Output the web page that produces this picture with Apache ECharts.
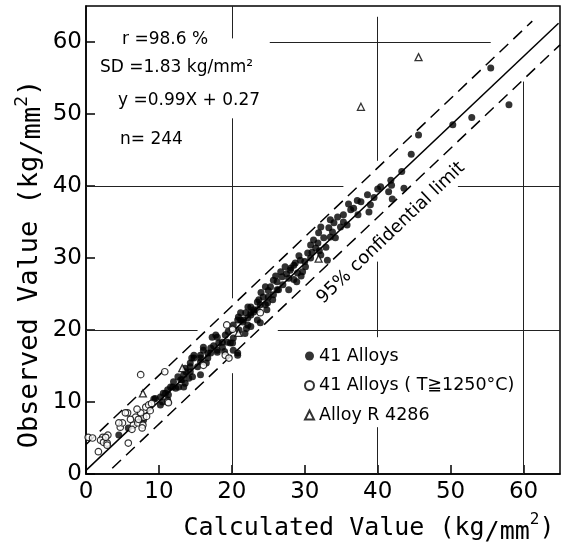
<!DOCTYPE html>
<html>
<head>
<meta charset="utf-8">
<script src="https://cdn.jsdelivr.net/npm/echarts@6/dist/echarts.min.js"></script>
<style>
html, body { margin: 0; background: #fff; }
#chart { width: 570px; height: 552px; }
</style>
</head>
<body>
<div id="chart"></div>
<script>
// tick values of both axes
var axisTicks = [0, 10, 20, 30, 40, 50, 60];

// ● 41 Alloys  [calculated, observed]
var alloys41 = [
    [55.5, 56.4], [58.0, 51.3], [52.9, 49.5], [50.3, 48.5], [45.6, 47.1], [44.6, 44.4], [43.3, 42.0], [43.6, 39.7],
    [41.8, 40.8], [41.9, 40.1], [40.4, 39.9], [41.5, 39.2], [40.0, 39.6], [42.0, 38.2], [38.6, 38.8], [37.7, 37.8],
    [36.7, 36.9], [38.8, 36.4], [36.3, 36.7], [35.3, 36.0], [35.3, 35.0], [34.5, 35.7], [34.9, 34.3], [33.5, 35.3],
    [33.3, 34.2], [32.2, 34.3], [31.9, 33.5], [31.2, 32.5], [32.6, 32.8], [30.8, 31.8], [39.5, 38.4], [37.2, 38.0],
    [36.0, 37.5], [33.5, 32.9], [32.9, 31.5], [31.8, 32.1], [32.2, 30.4], [33.1, 29.7], [30.8, 30.0], [30.1, 28.8],
    [29.7, 28.1], [28.5, 29.0], [29.0, 27.9], [28.0, 28.3], [26.7, 28.1], [26.9, 27.4], [26.2, 26.7], [27.8, 25.6],
    [26.4, 25.6], [25.3, 26.0], [25.7, 24.9], [25.6, 24.2], [24.3, 24.6], [24.6, 23.5], [23.5, 23.9], [23.0, 22.8],
    [22.2, 23.2], [22.6, 22.1], [21.2, 22.4], [21.6, 21.4], [20.8, 21.4], [20.2, 20.7], [30.4, 30.7], [29.4, 29.7],
    [28.7, 29.3], [28.1, 28.6], [27.8, 27.2], [25.7, 26.9], [24.6, 26.0], [26.2, 25.6], [25.0, 24.6], [23.7, 24.2],
    [23.9, 23.5], [22.6, 23.2], [23.0, 22.5], [21.9, 22.4], [20.9, 21.8], [22.2, 21.7], [21.5, 21.1], [23.5, 21.4],
    [23.9, 21.0], [22.6, 20.5], [19.1, 19.3], [18.7, 18.3], [18.0, 19.0], [19.8, 18.2], [20.2, 17.2], [20.8, 16.5],
    [18.0, 17.2], [17.1, 17.5], [16.7, 16.8], [16.1, 17.6], [15.7, 16.1], [14.8, 16.5], [15.7, 15.6], [14.5, 16.1],
    [14.3, 14.9], [13.7, 14.2], [15.7, 13.8], [22.2, 20.7], [21.2, 21.4], [22.6, 22.4], [23.5, 22.8], [20.2, 18.9],
    [19.4, 18.3], [18.7, 17.6], [17.8, 19.3], [17.3, 19.0], [18.2, 18.2], [20.1, 18.2], [20.8, 16.8], [18.0, 16.9],
    [17.1, 16.8], [16.1, 17.2], [15.7, 16.5], [16.7, 16.1], [14.8, 16.1], [15.3, 14.9], [14.3, 15.4], [13.6, 14.7],
    [14.3, 14.2], [13.4, 13.8], [13.2, 13.1], [12.6, 13.5], [12.0, 12.8], [13.4, 12.1], [12.7, 12.1], [11.6, 12.1],
    [11.2, 11.7], [10.6, 11.2], [10.2, 10.7], [9.3, 10.4], [7.9, 7.5], [5.8, 6.4], [4.5, 5.4], [9.5, 10.5],
    [10.5, 10.0], [10.2, 9.6], [11.2, 10.3], [11.3, 11.0], [11.9, 12.1], [10.9, 11.2], [13.0, 13.1], [13.6, 12.6],
    [14.1, 13.3], [14.6, 13.5], [12.3, 11.9], [24.0, 25.2], [25.0, 25.5], [27.0, 26.3], [28.5, 27.0], [29.5, 27.5],
    [30.0, 29.5], [31.0, 30.8], [32.0, 31.0], [33.8, 33.6], [34.2, 32.8], [27.3, 28.8], [26.0, 27.5], [24.8, 22.8],
    [22.0, 20.2], [21.0, 20.0], [19.5, 19.8], [17.5, 17.8], [16.5, 15.4], [19.0, 17.0], [21.8, 19.5], [24.9, 23.8],
    [27.5, 27.8], [29.2, 30.3], [31.5, 31.4], [35.8, 34.6], [37.3, 36.0], [39.0, 37.4], [34.0, 34.9], [28.9, 26.7]
];

// ○ 41 Alloys (T ≧ 1250°C)
var alloys41HighT = [
    [0.3, 5.1], [0.9, 5.0], [2.3, 5.1], [2.0, 4.7], [2.4, 4.4], [2.9, 4.3], [3.0, 5.4], [1.7, 3.1],
    [5.8, 4.3], [4.7, 6.5], [5.0, 7.1], [6.5, 6.8], [7.1, 7.1], [7.8, 6.8], [6.8, 7.9], [7.9, 7.9],
    [7.5, 8.5], [8.2, 9.3], [8.6, 9.6], [5.7, 8.5], [7.5, 13.8], [10.8, 14.2], [2.9, 4.0], [2.7, 5.1],
    [4.5, 7.1], [5.4, 8.5], [7.2, 7.6], [8.3, 8.0], [7.7, 6.4], [6.3, 6.2], [8.8, 8.8], [9.0, 9.8],
    [6.1, 7.6], [7.0, 9.0], [11.2, 10.0], [11.3, 9.9], [19.3, 20.7], [20.1, 20.1], [19.1, 16.5], [16.1, 15.1],
    [23.9, 22.4], [19.6, 16.1]
];

// △ Alloy R 4286
var alloyR4286 = [[37.7, 51.0], [45.6, 57.9], [7.8, 11.2], [13.2, 14.7], [20.9, 19.6], [31.9, 29.9]];

// regression line and 95 % limits
var regression = [[0, 0.5], [64.8, 62.6]];
var upperLimit = [[0, 4.1], [61.2, 62.9]];
var lowerLimit = [[3.6, 0.8], [65, 59.6]];

// what is left of the graph paper grid
var paperLines = [
    [[20, 65], [20, 60.5]], [[20, 49.4], [20, 24.4]], [[20, 14], [20, 0]],
    [[40, 63.5], [40, 43.5]], [[40, 29.5], [40, 19]], [[40, 6.5], [40, 0]],
    [[60, 54.5], [60, 0]],
    [[25.2, 60], [55.5, 60]],
    [[0, 40], [35.3, 40]], [[51, 40], [65, 40]],
    [[0, 20], [15.3, 20]], [[26.3, 20], [65, 20]]
];

var statsText = ['r =98.6 %', 'SD =1.83 kg/mm²', 'y =0.99X + 0.27', 'n= 244'];

var font = 'DejaVu Sans';
var titleFont = 'DejaVu Sans Mono';
var myChart = echarts.init(document.getElementById('chart'));

var valueAxis = function () {
    return {
        type: 'value', min: 0, max: 65, interval: 10,
        axisLine: { show: true, lineStyle: { color: '#000', width: 1.5 } },
        axisTick: { inside: true, length: 9, lineStyle: { color: '#000', width: 1.5 } },
        axisLabel: {
            color: '#000', fontSize: 23, fontFamily: font, showMaxLabel: false,
            formatter: function (v) { return axisTicks.indexOf(v) >= 0 ? String(v) : ''; }
        },
        splitLine: { show: false }
    };
};

var xAxis = valueAxis();
xAxis.axisLabel.margin = 7;
var yAxis = valueAxis();
yAxis.axisLabel.margin = 4;

var lineSeries = function (data, type) {
    return {
        type: 'line', data: data, symbol: 'none', silent: true, z: 1,
        lineStyle: { color: '#000', width: 1.5, type: type }
    };
};

// "/mm" dropped a little, "2" raised
var unitRich = function (size) {
    return {
        s: { fontSize: size, fontFamily: titleFont, lineHeight: 33, verticalAlign: 'bottom' },
        p: { fontSize: Math.round(size * 0.65), fontFamily: titleFont, lineHeight: 30, verticalAlign: 'top' }
    };
};

var option = {
    animation: false,
    grid: { left: 86, top: 6, width: 474, height: 468, show: true, borderColor: '#000', borderWidth: 1.5 },
    xAxis: xAxis,
    yAxis: yAxis,
    legend: {
        data: ['41 Alloys', '41 Alloys ( T≧1250°C)', 'Alloy R 4286'],
        orient: 'vertical', left: 299, top: 342, itemGap: 11.5, itemWidth: 9, itemHeight: 9,
        textStyle: { color: '#000', fontSize: 17.5, fontFamily: font }
    },
    series: [
        {
            type: 'line', data: [], silent: true, z: 0,
            markLine: {
                symbol: 'none', silent: true, label: { show: false },
                lineStyle: { color: '#222', width: 1, type: 'solid' },
                data: paperLines.map(function (s) { return [{ coord: s[0] }, { coord: s[1] }]; })
            }
        },
        lineSeries(regression, 'solid'),
        lineSeries(upperLimit, [12, 7]),
        lineSeries(lowerLimit, [12, 7]),
        {
            name: '41 Alloys', type: 'scatter', data: alloys41, symbol: 'circle', symbolSize: 7,
            itemStyle: { color: '#000' }, z: 3
        },
        {
            name: '41 Alloys ( T≧1250°C)', type: 'scatter', data: alloys41HighT, symbol: 'circle', symbolSize: 6.5,
            itemStyle: { color: '#fff', borderColor: '#000', borderWidth: 1.2 }, z: 4
        },
        {
            name: 'Alloy R 4286', type: 'scatter', data: alloyR4286, symbol: 'triangle', symbolSize: 7,
            itemStyle: { color: '#fff', borderColor: '#000', borderWidth: 1.3 }, z: 4
        }
    ],
    graphic: [
        { type: 'text', x: 122, y: 40, style: { text: statsText[0], font: '17px ' + font, fill: '#000', verticalAlign: 'middle' } },
        { type: 'text', x: 100, y: 68, style: { text: statsText[1], font: '17px ' + font, fill: '#000', verticalAlign: 'middle' } },
        { type: 'text', x: 118, y: 101, style: { text: statsText[2], font: '17px ' + font, fill: '#000', verticalAlign: 'middle' } },
        { type: 'text', x: 120, y: 140, style: { text: statsText[3], font: '17px ' + font, fill: '#000', verticalAlign: 'middle' } },
        {
            type: 'text', x: 391, y: 233, rotation: 43.6 * Math.PI / 180,
            style: { text: '95% confidential limit', font: '18px ' + font, fill: '#000', align: 'center', verticalAlign: 'middle' }
        },
        {
            type: 'text', x: 369, y: 528,
            style: {
                text: 'Calculated Value (kg{s|/mm}{p|2})', font: '25px ' + titleFont, fill: '#000',
                align: 'center', verticalAlign: 'middle', rich: unitRich(25)
            }
        },
        {
            type: 'text', x: 30, y: 264, rotation: Math.PI / 2,
            style: {
                text: 'Observed Value (kg{s|/mm}{p|2})', font: '27px ' + titleFont, fill: '#000',
                align: 'center', verticalAlign: 'middle', rich: unitRich(27)
            }
        }
    ]
};
myChart.setOption(option);
</script>
</body>
</html>
